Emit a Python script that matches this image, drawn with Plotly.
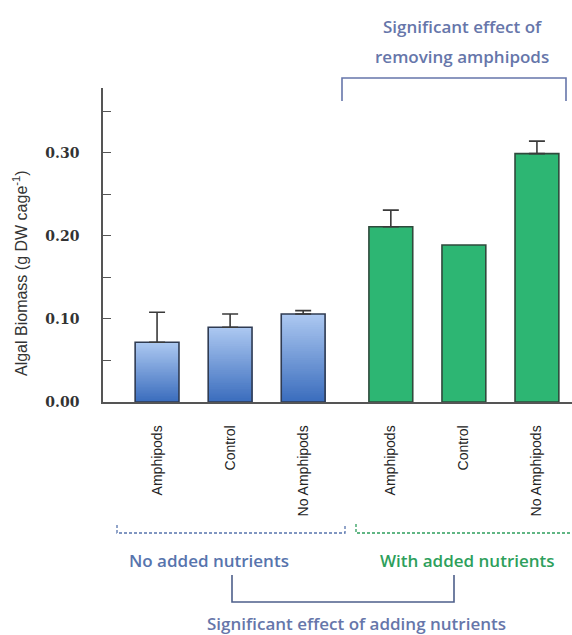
import plotly.graph_objects as go

# Treatment groups and algal biomass (g DW per cage)
treatments = ["Amphipods", "Control", "No Amphipods",
              "Amphipods", "Control", "No Amphipods"]
positions = [1.0, 2.0, 3.0, 4.2, 5.2, 6.2]
biomass = [0.072, 0.090, 0.106, 0.211, 0.189, 0.299]
error_up = [0.036, 0.016, 0.004, 0.020, 0.0, 0.015]
nutrient_group = ["none", "none", "none", "added", "added", "added"]

W, H = 572, 635
ML, MR, MT, MB = 103, 0, 88, 233
PW, PH = W - ML - MR, H - MT - MB


def px(x):
    return (x - ML) / PW


def py(y):
    return (H - MB - y) / PH


fig = go.Figure()

BAR_W = 0.6
OUTLINE = "#2f3b52"

# Blue bars (no added nutrients): vertical gradient from nested bars,
# tallest (lightest) first, each shorter one darker and drawn on top
n_slices = 40
top_rgb = (172, 200, 241)
bot_rgb = (60, 110, 190)
for x, v, g in zip(positions, biomass, nutrient_group):
    if g != "none":
        continue
    for k in range(n_slices):
        frac = (n_slices - k) / n_slices
        t = 1 - k / (n_slices - 1)
        c = tuple(int(bot_rgb[j] + (top_rgb[j] - bot_rgb[j]) * t) for j in range(3))
        fig.add_trace(go.Bar(
            x=[x], y=[v * frac], width=BAR_W,
            marker=dict(color="rgb(%d,%d,%d)" % c, line=dict(width=0)),
            showlegend=False, hoverinfo="skip"))

# Outlines and error bars for every bar
for x, v, e, g in zip(positions, biomass, error_up, nutrient_group):
    fill = "rgba(0,0,0,0)" if g == "none" else "#2db673"
    line_c = OUTLINE if g == "none" else "#2f4a3c"
    fig.add_trace(go.Bar(
        x=[x], y=[v], width=BAR_W,
        marker=dict(color=fill, line=dict(color=line_c, width=1.6)),
        error_y=dict(type="data", array=[e], arrayminus=[0], symmetric=False,
                     visible=e > 0, color="#3a3a3a", thickness=1.6, width=8),
        showlegend=False))

fig.update_layout(
    width=W, height=H, barmode="overlay",
    margin=dict(l=ML, r=MR, t=MT, b=MB),
    paper_bgcolor="white", plot_bgcolor="white",
    font=dict(family="Liberation Sans, Arial, sans-serif", color="#333"),
)

fig.update_xaxes(
    range=[0.26, 6.68], tickvals=positions, ticktext=treatments,
    tickangle=-90, tickfont=dict(size=14, color="#222"),
    ticks="", showgrid=False, zeroline=False,
    showline=True, linecolor="#555", linewidth=1.5,
    ticklabelstandoff=16,
)

fig.update_yaxes(
    range=[0, 0.378], dtick=0.1, tick0=0, tickformat=".2f",
    ticks="inside", ticklen=8, tickcolor="#555", tickwidth=1.3,
    minor=dict(dtick=0.05, ticks="inside", ticklen=8, tickcolor="#555", tickwidth=1.3),
    tickfont=dict(family="DejaVu Serif, serif", size=14, color="#333", weight="bold"),
    showgrid=False, zeroline=False,
    showline=True, linecolor="#555", linewidth=1.5,
    ticklabelstandoff=19,
)

# Y-axis title
fig.add_annotation(
    x=px(20), y=py(273), xref="paper", yref="paper",
    xanchor="center", yanchor="middle",
    text="Algal Biomass (g DW cage<sup>-1</sup>)", textangle=-90,
    showarrow=False, font=dict(size=16, color="#333"))

SLATE = "#6676aa"
BLUE_T = "#5774ad"
GREEN_T = "#2e9f5c"
TFONT = "Open Sans, sans-serif"


def note(x, y, text, size, color):
    fig.add_annotation(x=px(x), y=py(y), xref="paper", yref="paper",
                       xanchor="center", yanchor="middle", align="center",
                       text=text, showarrow=False,
                       font=dict(family=TFONT, size=size, color=color, weight=600))


def bracket(points, color, width, dash="solid"):
    path = "M " + " L ".join("%f %f" % (px(a), py(b)) for a, b in points)
    fig.add_shape(type="path", xref="paper", yref="paper", path=path,
                  line=dict(color=color, width=width, dash=dash))


# Top bracket: effect of removing amphipods
bracket([(342, 101), (342, 78), (566, 78), (566, 101)], SLATE, 1.6)
note(462, 26, "Significant effect of", 17, SLATE)
note(462, 56, "removing amphipods", 17, SLATE)

# Dashed group brackets
bracket([(117, 525), (117, 533), (345, 533), (345, 524)], BLUE_T, 1.3, "3px,2px")
bracket([(356, 524), (356, 533), (572, 533)], GREEN_T, 1.3, "3px,2px")

note(209, 560, "No added nutrients", 17, BLUE_T)
note(467, 560, "With added nutrients", 17, GREEN_T)

# Bottom bracket: effect of adding nutrients
bracket([(232, 575), (232, 602), (454, 602), (454, 575)], "#4e5f8a", 1.6)
note(356, 623, "Significant effect of adding nutrients", 17, SLATE)

fig.write_html("out.html")
